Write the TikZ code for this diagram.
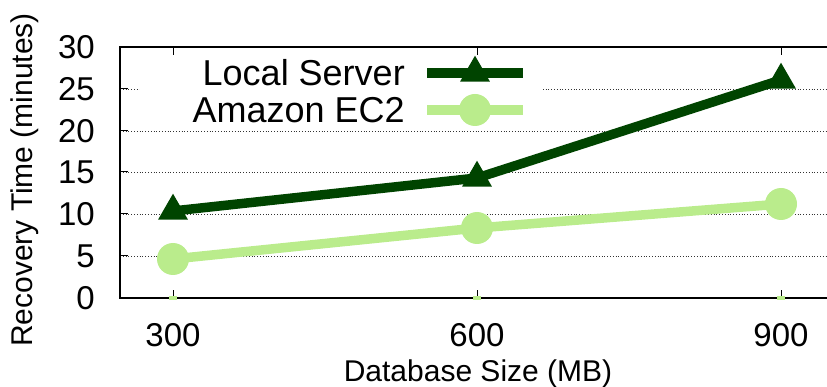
\documentclass[tikz,border=0pt]{standalone}
\usepackage{fontspec}
\setmainfont{Liberation Sans}
\usetikzlibrary{shapes.geometric}

\definecolor{darkgreen}{RGB}{0,68,0}
\definecolor{lightgreen}{RGB}{186,236,140}

\begin{document}
\begin{tikzpicture}[x=1pt,y=-1pt]
    \tikzstyle{grid}=[black!80,line width=0.8pt,dotted]
    \tikzstyle{tick}=[black,line width=1pt]
    \tikzstyle{ticklabel}=[font=\fontsize{33}{33}\selectfont,inner sep=0pt]
    \tikzstyle{local}=[darkgreen,line width=9.5pt,line join=miter]
    \tikzstyle{ec2}=[lightgreen,line width=9.5pt]
    \tikzstyle{tri}=[regular polygon,regular polygon sides=3,fill=darkgreen,minimum size=34.6pt,inner sep=0pt]
    \tikzstyle{dot}=[circle,fill=lightgreen,minimum size=32pt,inner sep=0pt]

    \clip (0,0) rectangle (827,387);
    \useasboundingbox (0,0) rectangle (827,387);

    % grid
    \foreach \y in {89,131,172,214,256}
        \draw[grid] (120,\y) -- (827,\y);
    \fill[white] (140,56) rectangle (543,124);

    % frame and ticks
    \draw[line width=1.6pt] (830,47) -- (120,47) -- (120,298) -- (830,298);
    \foreach \y in {89,131,172,214,256}
        \draw[tick] (120,\y) -- (128,\y);
    \foreach \x in {173,477,781} {
        \draw[tick] (\x,47) -- (\x,55);
        \draw[tick] (\x,298) -- (\x,290);
        \fill[lightgreen] (\x-4,296) rectangle (\x+4,300);
    }

    % tick labels
    \foreach \v/\y in {0/298,5/256,10/214,15/172,20/131,25/89,30/47}
        \node[ticklabel,anchor=east] (y\v) at (95,\y) {\v};
    \foreach \v/\x in {300/173,600/477,900/781}
        \node[ticklabel] (x\v) at (\x,335) {\v};

    % axis labels
    \node[font=\fontsize{30}{30}\selectfont,inner sep=0pt] (xlabel) at (478,374) {Database Size (MB)};
    \node[font=\fontsize{30}{30}\selectfont,inner sep=0pt,rotate=90] (ylabel) at (25,180) {Recovery Time (minutes)};

    % data points
    \coordinate (L1) at (173,211);
    \coordinate (L2) at (477,178);
    \coordinate (L3) at (781,80);
    \coordinate (E1) at (173,259);
    \coordinate (E2) at (477,228);
    \coordinate (E3) at (781,204);

    \draw[local] (L1) -- (L2) -- (L3);
    \draw[ec2] (E1) -- (E2) -- (E3);
    \foreach \p in {L1,L2,L3}
        \node[tri] at (\p) {};
    \foreach \p in {E1,E2,E3}
        \node[dot] at (\p) {};

    % legend
    \node[font=\fontsize{36}{36}\selectfont,inner sep=0pt,anchor=east] (leglocal) at (405,73) {Local Server};
    \node[font=\fontsize{36}{36}\selectfont,inner sep=0pt,anchor=east] (legec2) at (405,110) {Amazon EC2};
    \coordinate (la) at (427,73);
    \coordinate (lb) at (523,73);
    \coordinate (ea) at (427,110);
    \coordinate (eb) at (523,110);
    \draw[local] (la) -- (lb);
    \draw[ec2] (ea) -- (eb);
    \node[tri] at (475,73) {};
    \node[dot] at (475,110) {};
\end{tikzpicture}
\end{document}
